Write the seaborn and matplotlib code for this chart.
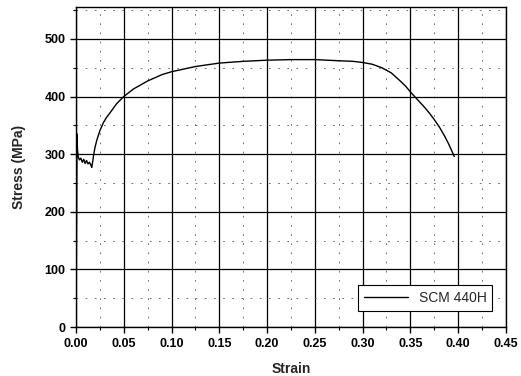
import numpy as np
import pandas as pd
import matplotlib
matplotlib.use("Agg")
import matplotlib.pyplot as plt
import seaborn as sns
from matplotlib.ticker import MultipleLocator

# stress-strain curve
strain = [0.0, 0.0006, 0.0010, 0.0014, 0.0022, 0.0035, 0.005, 0.0065, 0.008, 0.0095,
          0.011, 0.0125, 0.014, 0.0155, 0.0164, 0.0175, 0.0185, 0.020, 0.0217, 0.025,
          0.0287, 0.032, 0.0357, 0.0427, 0.05, 0.06, 0.075, 0.09, 0.10, 0.125,
          0.15, 0.175, 0.20, 0.225, 0.25, 0.275, 0.29, 0.30, 0.31, 0.32,
          0.33, 0.34, 0.345, 0.35, 0.355, 0.36, 0.365, 0.37, 0.375, 0.38,
          0.385, 0.39, 0.396]
stress = [0, 210, 335, 310, 296, 290, 293, 286, 291, 284,
          289, 283, 286, 281, 277, 288, 300, 313, 324, 341,
          355, 364, 372, 388, 400, 413, 427, 438, 443, 452,
          458, 461, 463, 464, 464, 462, 461, 459, 456, 450,
          441, 426, 418, 408, 399, 390, 381, 371, 360, 348,
          334, 318, 296]
series_name = "SCM 440H"

df = pd.DataFrame({"Strain": strain, "Stress": stress, "Sample": series_name})

sns.set_style("ticks")
plt.rcParams["font.family"] = ["Liberation Sans", "DejaVu Sans"]

fig = plt.figure(figsize=(5.21, 3.76), dpi=100)
ax = fig.add_axes([0.146, 0.130, 0.825, 0.851])

sns.lineplot(data=df, x="Strain", y="Stress", hue="Sample", palette=["black"],
             linewidth=1.0, sort=False, estimator=None, ax=ax)

ax.set_xlim(0, 0.45)
ax.set_ylim(0, 555)
ax.xaxis.set_major_locator(MultipleLocator(0.05))
ax.xaxis.set_minor_locator(MultipleLocator(0.025))
ax.yaxis.set_major_locator(MultipleLocator(100))
ax.yaxis.set_minor_locator(MultipleLocator(50))
ax.xaxis.set_major_formatter(matplotlib.ticker.FormatStrFormatter("%.2f"))

ax.grid(which="major", color="black", linewidth=0.9, linestyle="-")
ax.grid(which="minor", color="#555555", linewidth=0.6, linestyle=(0, (2, 9)))
ax.set_axisbelow(True)

for s in ax.spines.values():
    s.set_color("black")
    s.set_linewidth(1.0)

ax.tick_params(which="major", direction="out", length=4, width=1, colors="black",
               labelsize=9)
ax.tick_params(which="minor", direction="out", length=2.5, width=0.8, colors="black")
for lab in ax.get_xticklabels() + ax.get_yticklabels():
    lab.set_fontweight("bold")

ax.set_xlabel("Strain", fontsize=10, fontweight="bold", labelpad=9)
ax.set_ylabel("Stress (MPa)", fontsize=10, fontweight="bold", labelpad=13)

leg = ax.legend(loc="lower right", frameon=True, fancybox=False, fontsize=10,
                handlelength=3.2, borderpad=0.4, bbox_to_anchor=(0.985, 0.03))
leg.get_frame().set_edgecolor("black")
leg.get_frame().set_linewidth(0.8)
leg.get_frame().set_alpha(1)

fig.savefig("out.png", dpi=100)
